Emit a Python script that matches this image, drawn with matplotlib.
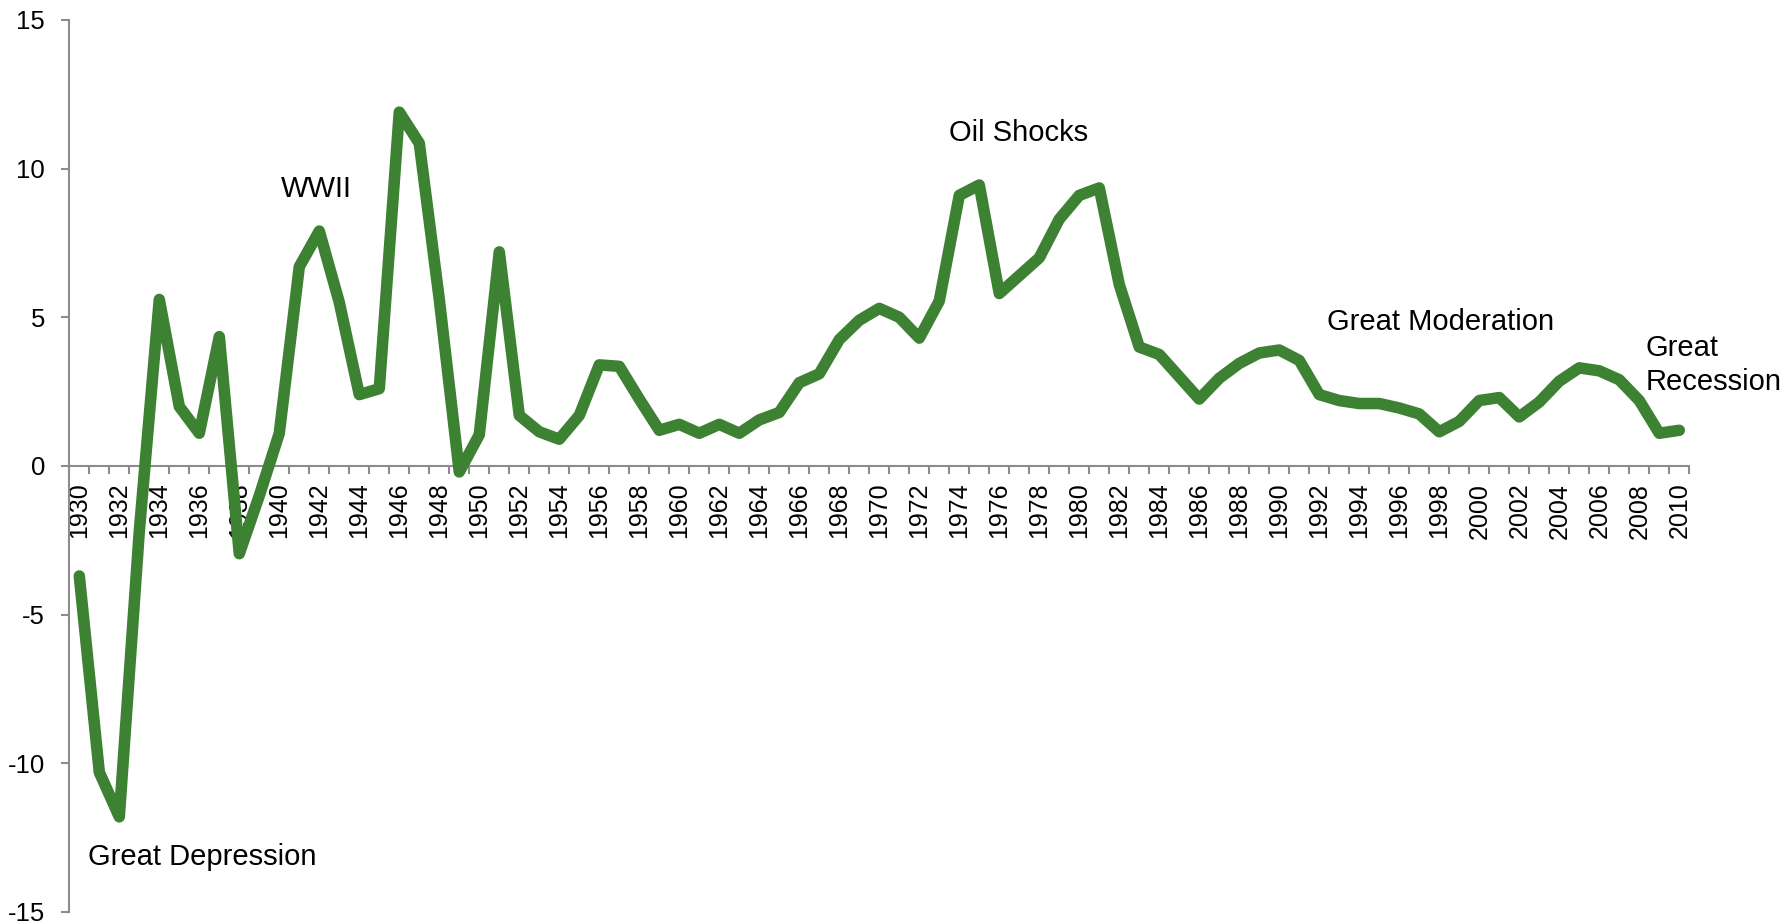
import matplotlib
matplotlib.use("Agg")
import matplotlib.pyplot as plt
from matplotlib.ticker import FixedLocator

plt.rcParams['font.family'] = ['Liberation Sans', 'DejaVu Sans']

years = list(range(1930, 2011))
inflation = [
    -3.7, -10.3, -11.8, -2.2, 5.6, 2.0, 1.1, 4.35, -2.95, -1.0,   # 1930s
    1.1, 6.7, 7.9, 5.5, 2.4, 2.6, 11.9, 10.85, 5.6, -0.2,         # 1940s
    1.05, 7.2, 1.7, 1.15, 0.9, 1.7, 3.4, 3.35, 2.25, 1.2,          # 1950s
    1.4, 1.1, 1.4, 1.1, 1.55, 1.8, 2.8, 3.1, 4.25, 4.9,            # 1960s
    5.3, 5.0, 4.3, 5.55, 9.1, 9.45, 5.8, 6.4, 7.0, 8.3,            # 1970s
    9.1, 9.35, 6.1, 4.0, 3.75, 3.0, 2.25, 2.95, 3.45, 3.8,         # 1980s
    3.9, 3.55, 2.4, 2.2, 2.1, 2.1, 1.95, 1.75, 1.15, 1.5,          # 1990s
    2.2, 2.3, 1.65, 2.15, 2.85, 3.3, 3.2, 2.9, 2.2, 1.1,           # 2000s
    1.2,                                                           # 2010
]
tick_years = [str(y) for y in range(1930, 2011, 2)]
y_ticks = [-15, -10, -5, 0, 5, 10, 15]
annotations = [
    ("Great Depression", 0.45, -13.15),
    ("WWII", 10.1, 9.3),
    ("Oil Shocks", 43.5, 11.2),
    ("Great Moderation", 62.4, 4.85),
    ("Great\nRecession", 78.3, 3.4),
]

line_color = "#3d8132"
axis_color = "#8c8c8c"

fig = plt.figure(figsize=(17.92, 9.24), dpi=100)
ax = fig.add_axes([0.03867, 0.013, 0.904, 0.9654])

x = list(range(len(years)))
ax.plot(x, inflation, color=line_color, linewidth=8.3,
        solid_joinstyle='round', solid_capstyle='round', zorder=3)

ax.set_xlim(-0.5, len(years) - 0.5)
ax.set_ylim(-15, 15)

# spines
for s in ['top', 'right']:
    ax.spines[s].set_visible(False)
ax.spines['bottom'].set_position(('data', 0))
for s in ['left', 'bottom']:
    ax.spines[s].set_color(axis_color)
    ax.spines[s].set_linewidth(1.5)

# y axis
ax.set_yticks(y_ticks)
ax.set_yticklabels([str(v) for v in y_ticks])
ax.tick_params(axis='y', direction='out', length=5.5, width=1.5,
               color=axis_color, labelsize=18.5, pad=12)

# x axis: label at every other category center, ticks at category boundaries
label_pos = [years.index(int(t)) for t in tick_years]
ax.xaxis.set_major_locator(FixedLocator(label_pos))
ax.set_xticklabels(tick_years, rotation=90, va='top', ha='center')
ax.xaxis.set_minor_locator(FixedLocator([i - 0.5 for i in range(len(years) + 1)]))
ax.tick_params(axis='x', which='major', length=0, labelsize=18, pad=12)
ax.tick_params(axis='x', which='minor', direction='out', length=6,
               width=1.5, color=axis_color)

for text, xi, yi in annotations:
    ax.text(xi, yi, text, fontsize=21, ha='left', va='center',
            color='black', linespacing=1.3)

fig.savefig("out.png", dpi=100)
